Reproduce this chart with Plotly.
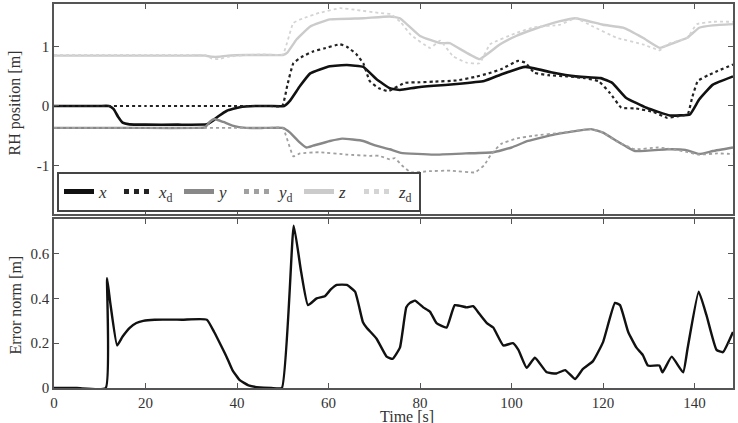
import plotly.graph_objects as go
from plotly.subplots import make_subplots

# ---------------- data ----------------
t_x = [0, 6, 10, 12, 13, 14, 15, 16.5, 20, 27, 33.4, 34.5, 36, 37.8, 40.6, 44, 47, 50.3, 51.5, 53.8,
       56, 60.3, 64, 67.6, 70.5, 73.4, 75.6, 79, 83, 88, 94, 98, 103, 108.6, 114, 119.5, 122, 125,
       129.5, 134.6, 139, 141, 144, 148.4]
x = [0, 0, 0, 0, -0.05, -0.18, -0.28, -0.31, -0.315, -0.315, -0.31, -0.26, -0.17, -0.08, -0.02, 0,
     0, 0, 0.08, 0.34, 0.55, 0.67, 0.69, 0.66, 0.45, 0.3, 0.27, 0.31, 0.34, 0.37, 0.42, 0.54, 0.66,
     0.57, 0.5, 0.47, 0.39, 0.14, -0.03, -0.16, -0.14, 0.11, 0.36, 0.5]

t_xd = [0, 10, 20, 30, 40, 47, 49.9, 51, 52.3, 54, 56.6, 59, 62.5, 64, 66, 67.6, 69, 71, 73, 76.7,
        80, 83, 88, 92, 95, 97.7, 101.4, 103, 105, 108, 112, 116, 119, 121.5, 124, 127, 131, 134,
        136.5, 138.5, 139.5, 140.7, 143, 145, 148.4]
x_d = [0, 0, 0, 0, 0, 0, 0, 0.35, 0.72, 0.82, 0.92, 0.97, 1.04, 1.0, 0.88, 0.72, 0.42, 0.3, 0.25,
       0.39, 0.4, 0.41, 0.43, 0.49, 0.55, 0.62, 0.76, 0.73, 0.56, 0.52, 0.5, 0.47, 0.42, 0.22, -0.03,
       -0.04, -0.1, -0.2, -0.17, -0.14, 0.15, 0.42, 0.52, 0.59, 0.7]

t_y = [0, 10, 20, 31, 33, 34, 35, 37, 39, 42, 46, 50, 51.6, 53.5, 55.2, 56.6, 60.3, 63, 67.6, 70,
       73.4, 75.8, 83, 90, 96, 100, 103.6, 109.5, 117.4, 120, 123, 127, 134, 138, 141, 144, 148.4]
y = [-0.37, -0.37, -0.37, -0.37, -0.36, -0.27, -0.22, -0.27, -0.33, -0.37, -0.37, -0.37, -0.45,
     -0.6, -0.7, -0.67, -0.59, -0.55, -0.59, -0.66, -0.73, -0.79, -0.82, -0.8, -0.78, -0.7, -0.59,
     -0.48, -0.39, -0.45, -0.59, -0.76, -0.73, -0.74, -0.81, -0.76, -0.7]

t_yd = [0, 10, 20, 30, 40, 47, 50, 52.3, 53.8, 58, 64, 69, 71, 73.4, 74.5, 76, 78, 82, 86.7, 92, 94,
        95.5, 97.7, 101, 105, 111, 117.4, 120, 123, 127, 132, 136, 138.5, 141, 145, 148.4]
y_d = [-0.37, -0.37, -0.37, -0.37, -0.37, -0.37, -0.37, -0.85, -0.8, -0.78, -0.82, -0.84, -0.84,
       -0.9, -0.88, -1.0, -1.12, -1.1, -1.09, -1.12, -1.0, -0.82, -0.64, -0.55, -0.5, -0.45, -0.39,
       -0.45, -0.6, -0.73, -0.7, -0.74, -0.78, -0.82, -0.8, -0.81]

t_z = [0, 10, 20, 30, 33, 34.5, 36, 38, 42, 46, 50, 51, 53, 56, 60.3, 67.6, 73.4, 75.6, 80, 84.4,
       86.5, 89, 93, 97.5, 101, 104.7, 110.6, 114, 120, 124.4, 128.7, 132.4, 135, 138.4, 141, 144,
       148.4]
z = [0.85, 0.85, 0.85, 0.85, 0.85, 0.83, 0.83, 0.85, 0.86, 0.86, 0.86, 0.9, 1.12, 1.34, 1.46,
     1.48, 1.51, 1.48, 1.18, 1.06, 1.06, 0.95, 0.79, 1.04, 1.18, 1.29, 1.43, 1.48, 1.37, 1.32, 1.15,
     0.98, 1.05, 1.15, 1.32, 1.36, 1.38]

t_zd = [0, 10, 20, 30, 33, 34.5, 36, 38, 42, 46, 50, 52.3, 54.5, 58, 62.5, 66, 71, 73.6, 75.7, 78,
        82.2, 84.4, 87.2, 90.2, 93, 95.3, 101, 105, 110.6, 114, 117.8, 123, 128.7, 132.4, 134,
        138.4, 140.5, 144, 148.4]
z_d = [0.86, 0.86, 0.86, 0.86, 0.86, 0.8, 0.79, 0.83, 0.86, 0.87, 0.87, 1.4, 1.48, 1.57, 1.65,
       1.62, 1.57, 1.55, 1.42, 1.2, 0.98, 1.1, 0.84, 0.73, 0.72, 1.04, 1.23, 1.33, 1.37, 1.48, 1.34,
       1.15, 1.04, 0.94, 1.04, 1.15, 1.38, 1.42, 1.42]

t_e = [0, 5, 11.3, 11.6, 12.3, 13.8, 15, 16.6, 18, 19.5, 22, 28, 33.4, 35, 36.5, 37.7, 39, 40.6,
       42.5, 45, 47.5, 49.8, 52.4, 54, 55.5, 57.4, 59.2, 60.5, 61.8, 64, 65.8, 67.5, 68.3, 70.5,
       72.7, 74, 75.6, 77, 77.8, 78.9, 80.7, 82.2, 83.6, 85.8, 87.6, 90.2, 91.6, 93, 94.6, 96, 98.2,
       100.3, 101.5, 103.3, 105.1, 107.7, 109.8, 111.7, 113.9, 115.6, 117.8, 120, 122.6, 123.7,
       125.5, 127.3, 128.7, 129.8, 132.3, 133, 135, 137.5, 138.5, 140.9, 142.6, 144.8, 146.2, 148.4]
err = [0, 0, 0, 0.49, 0.38, 0.19, 0.23, 0.27, 0.29, 0.30, 0.305, 0.305, 0.305, 0.25, 0.19, 0.14,
       0.08, 0.035, 0.012, 0.002, 0, 0, 0.725, 0.52, 0.37, 0.40, 0.41, 0.44, 0.46, 0.46, 0.43, 0.295,
       0.27, 0.22, 0.14, 0.13, 0.18, 0.36, 0.38, 0.39, 0.36, 0.34, 0.29, 0.27, 0.37, 0.36, 0.365,
       0.33, 0.29, 0.27, 0.19, 0.2, 0.17, 0.09, 0.135, 0.07, 0.065, 0.08, 0.04, 0.085, 0.12, 0.205,
       0.38, 0.37, 0.25, 0.18, 0.147, 0.1, 0.1, 0.07, 0.14, 0.07, 0.18, 0.43, 0.325, 0.17, 0.16, 0.25]

x_ticks = [0, 20, 40, 60, 80, 100, 120, 140]
top_ticks = [-1, 0, 1]
top_ticktext = ["-1", "0", "1"]
bot_ticks = [0, 0.2, 0.4, 0.6]
bot_ticktext = ["0", "0.2", "0.4", "0.6"]

# ---------------- figure ----------------
FONT = "Liberation Serif"
fig = make_subplots(rows=2, cols=1, vertical_spacing=0.0)

series = [
    (t_x, x, "<i>x</i>", "#111111", "solid", 2.6),
    (t_xd, x_d, "<i>x</i><sub>d</sub>", "#222222", "dot", 2.2),
    (t_y, y, "<i>y</i>", "#888888", "solid", 2.4),
    (t_yd, y_d, "<i>y</i><sub>d</sub>", "#a0a0a0", "dot", 1.8),
    (t_z, z, "<i>z</i>", "#cbcbcb", "solid", 2.4),
    (t_zd, z_d, "<i>z</i><sub>d</sub>", "#d4d4d4", "dot", 1.8),
]
for tt, vv, name, col, dash, w in series:
    fig.add_trace(go.Scatter(x=tt, y=vv, name=name, mode="lines",
                             line=dict(color=col, dash=dash, width=w, shape="spline", smoothing=0.35)),
                  row=1, col=1)

fig.add_trace(go.Scatter(x=t_e, y=err, mode="lines", showlegend=False,
                         line=dict(color="#111111", width=2.4, shape="spline", smoothing=0.4)),
              row=2, col=1)

axis_common = dict(showgrid=False, zeroline=False, showline=True, linecolor="#555555", linewidth=1.6,
                   mirror="ticks", ticks="inside", ticklen=5, tickcolor="#555555", tickwidth=1.2,
                   tickfont=dict(family=FONT, size=15, color="#333333"))

fig.update_xaxes(range=[0, 148.4], tickvals=x_ticks, **axis_common)
fig.update_xaxes(showticklabels=False, row=1, col=1)
fig.update_yaxes(**axis_common)
fig.update_yaxes(range=[-1.82, 1.72], tickvals=top_ticks, ticktext=top_ticktext, row=1, col=1)
fig.update_yaxes(range=[0, 0.755], tickvals=bot_ticks, ticktext=bot_ticktext, row=2, col=1)

fig.update_layout(
    width=738, height=423,
    margin=dict(l=54, r=5, t=2, b=35),
    paper_bgcolor="white", plot_bgcolor="white",
    font=dict(family=FONT, size=15, color="#333333"),
    yaxis=dict(domain=[0.4534, 1.0]),
    yaxis2=dict(domain=[0.0, 0.4404]),
    legend=dict(orientation="h", x=0.0044, y=0.4585, xanchor="left", yanchor="bottom",
                bgcolor="white", bordercolor="#444444", borderwidth=2,
                font=dict(family=FONT, size=17, color="#333333"),
                entrywidth=15, entrywidthmode="pixels",
                tracegroupgap=0, itemsizing="constant"),
    annotations=[
        dict(text="RH position [m]", x=-0.0574, y=0.741, xref="paper", yref="paper",
             textangle=-90, showarrow=False, xanchor="center", yanchor="middle",
             font=dict(family=FONT, size=16, color="#333333")),
        dict(text="Error norm [m]", x=-0.0574, y=0.215, xref="paper", yref="paper",
             textangle=-90, showarrow=False, xanchor="center", yanchor="middle",
             font=dict(family=FONT, size=16, color="#333333")),
        dict(text="Time [s]", x=0.52, y=-0.047, xref="paper", yref="paper",
             showarrow=False, xanchor="center", yanchor="top",
             font=dict(family=FONT, size=16, color="#333333")),
    ],
)

fig.write_html("out.html")
